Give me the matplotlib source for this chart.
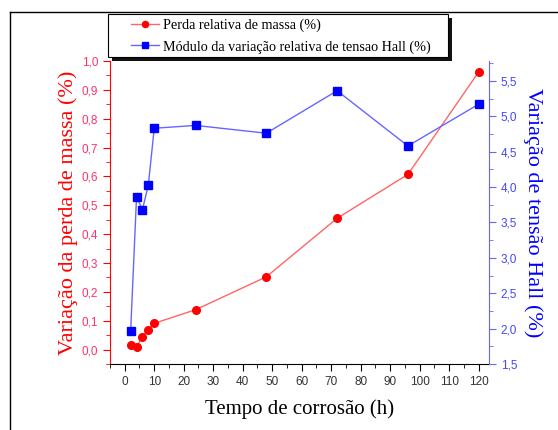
import numpy as np
import matplotlib
matplotlib.use('Agg')
import matplotlib.pyplot as plt
from matplotlib.lines import Line2D
from matplotlib.patches import Rectangle
from matplotlib.ticker import MultipleLocator, FuncFormatter

tempo = [2, 4, 6, 8, 10, 24, 48, 72, 96, 120]
perda_massa = [0.017, 0.008, 0.045, 0.069, 0.091, 0.138, 0.252, 0.455, 0.607, 0.962]
tensao_hall = [1.96, 3.86, 3.68, 4.03, 4.83, 4.87, 4.76, 5.36, 4.58, 5.17]

vermelho = '#ff0000'
azul = '#0000ff'

W, H = 558, 430
fig = plt.figure(figsize=(W/100, H/100), dpi=100)
ax = fig.add_axes([110/W, 1-364/H, (489-110)/W, (364-61)/H])
ax2 = ax.twinx()

virgula = FuncFormatter(lambda v, p: ('%.1f' % v).replace('.', ','))

l1, = ax.plot(tempo, perda_massa, color='#ff6666', lw=1, marker='o', ms=5.5,
              mfc=vermelho, mec=vermelho, label='Perda relativa de massa (%)')
l2, = ax2.plot(tempo, tensao_hall, color='#6666ff', lw=1, marker='s', ms=5.5,
               mfc=azul, mec=azul, label='Módulo da variação relativa de tensao Hall (%)')

ax.set_xlim(-5, 123.5)
ax.set_ylim(-0.05, 1.0)
ax2.set_ylim(1.5, 5.78)

ax.xaxis.set_major_locator(MultipleLocator(10))
ax.xaxis.set_minor_locator(MultipleLocator(5))
ax.yaxis.set_major_locator(MultipleLocator(0.1))
ax.yaxis.set_minor_locator(MultipleLocator(0.05))
ax2.yaxis.set_major_locator(MultipleLocator(0.5))
ax2.yaxis.set_minor_locator(MultipleLocator(0.25))
ax.yaxis.set_major_formatter(virgula)
ax2.yaxis.set_major_formatter(virgula)

for a in (ax, ax2):
    a.spines['top'].set_visible(False)
ax.spines['left'].set_color(vermelho)
ax.spines['right'].set_visible(False)
ax2.spines['left'].set_visible(False)
ax2.spines['bottom'].set_visible(False)
ax2.spines['right'].set_color('#6666ff')

ax.tick_params(axis='x', which='both', direction='out', labelsize=8.5, colors='black', labelcolor='#333333')
ax.tick_params(axis='x', which='major', length=5)
ax.tick_params(axis='x', which='minor', length=3)
ax.tick_params(axis='y', which='both', direction='out', colors=vermelho, labelcolor='#ff3366', labelsize=8.5)
ax.tick_params(axis='y', which='major', length=5)
ax.tick_params(axis='y', which='minor', length=3)
ax2.tick_params(axis='y', which='both', direction='out', colors='#6666ff', labelcolor='#4444ff', labelsize=8.5)
ax2.tick_params(axis='y', which='major', length=5)
ax2.tick_params(axis='y', which='minor', length=3)

for a in (ax, ax2):
    for t in a.get_yticklabels() + a.get_xticklabels():
        t.set_family('Liberation Sans')

ax.set_xlabel('Tempo de corrosão (h)', family='Liberation Serif', fontsize=15, labelpad=8)
ax.set_ylabel('Variação da perda de massa (%)', family='Liberation Serif', fontsize=16,
              color=vermelho, labelpad=3)
ax2.set_ylabel('Variação de tensão Hall (%)', family='Liberation Serif', fontsize=16,
               color=azul, rotation=270, labelpad=18)

# caixa da legenda com sombra
fig.add_artist(Rectangle((112/W, 1-61/H), 340/W, 43/H, transform=fig.transFigure,
                         facecolor='#111111', edgecolor='none', zorder=3))
fig.add_artist(Rectangle((108/W, 1-57/H), 340/W, 43/H, transform=fig.transFigure,
                         facecolor='white', edgecolor='black', lw=0.8, zorder=4))
leg = fig.legend(handles=[l1, l2], loc='upper left', bbox_to_anchor=(128/W, 1-16/H),
                 prop={'family': 'Liberation Serif', 'size': 10.2}, frameon=False,
                 borderpad=0.2, handlelength=2.0, handletextpad=0.3, markerscale=0.8,
                 labelspacing=0.55, borderaxespad=0)
leg.set_zorder(5)

# moldura externa
fig.add_artist(Line2D([10/W, 10/W], [0, 1-12/H], color='black', lw=1, transform=fig.transFigure))
fig.add_artist(Line2D([10/W, 1], [1-12/H, 1-12/H], color='black', lw=1, transform=fig.transFigure))

fig.savefig('out.png', dpi=100)
